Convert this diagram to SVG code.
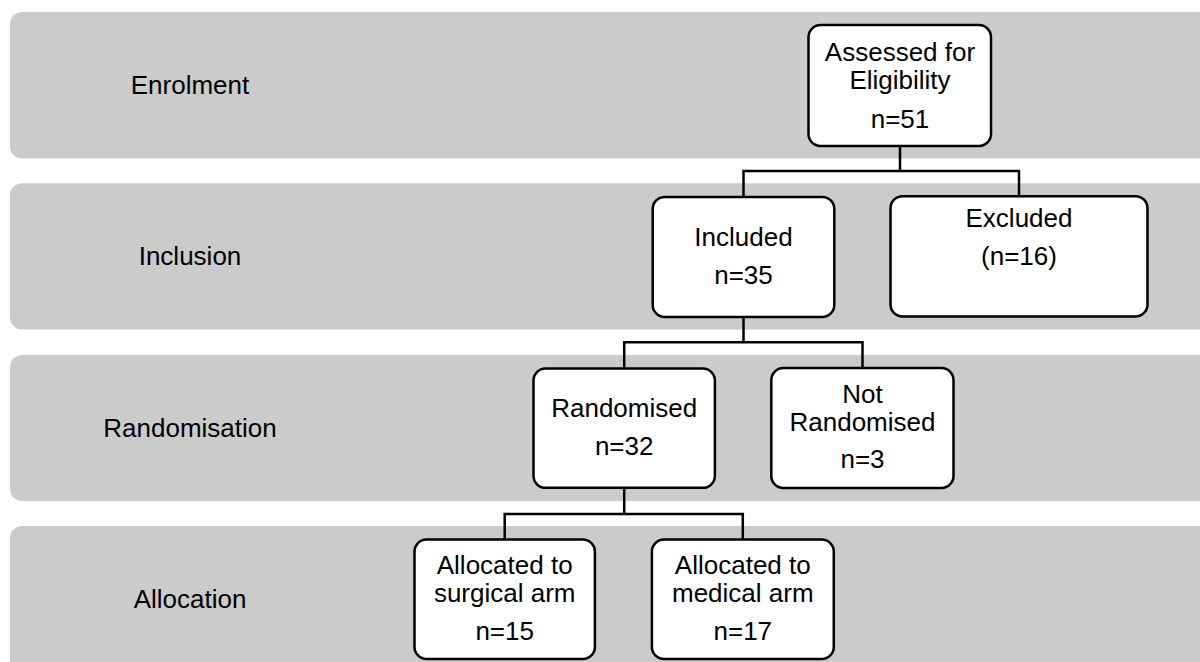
<svg xmlns="http://www.w3.org/2000/svg" width="1200" height="662" viewBox="0 0 1200 662">
  <style>
    .band { fill: #cbcbcb; }
    .box { fill: #ffffff; stroke: #000000; stroke-width: 2.5; }
    .conn { fill: none; stroke: #000000; stroke-width: 2.5; stroke-linejoin: miter; stroke-linecap: butt; }
    text { font-family: "Liberation Sans", Arial, sans-serif; font-size: 26px; fill: #000000; text-anchor: middle; }
  </style>

  <!-- Stage bands -->
  <g id="bands">
    <g id="band-enrolment">
      <rect class="band" x="10" y="12" width="1210" height="146.5" rx="12" ry="12"/>
      <text x="190" y="94">Enrolment</text>
    </g>
    <g id="band-inclusion">
      <rect class="band" x="10" y="183.3" width="1210" height="146.2" rx="12" ry="12"/>
      <text x="190" y="265">Inclusion</text>
    </g>
    <g id="band-randomisation">
      <rect class="band" x="10" y="355" width="1210" height="146" rx="12" ry="12"/>
      <text x="190" y="436.7">Randomisation</text>
    </g>
    <g id="band-allocation">
      <rect class="band" x="10" y="526" width="1210" height="160" rx="12" ry="12"/>
      <text x="190" y="608.3">Allocation</text>
    </g>
  </g>

  <!-- Connectors -->
  <g id="connectors">
    <path class="conn" d="M900,146 V171 M743.5,197 V171 H1019 V196"/>
    <path class="conn" d="M743.5,317 V342.3 M624.2,368 V342.3 H862.5 V368"/>
    <path class="conn" d="M624.2,488 V514 M504.7,539 V514 H742.8 V539"/>
  </g>

  <!-- Nodes -->
  <g id="node-assessed">
    <rect class="box" x="808.5" y="25" width="182.5" height="121" rx="12" ry="12"/>
    <text x="900" y="61">Assessed for</text>
    <text x="900" y="89.3">Eligibility</text>
    <text x="900" y="127.7">n=51</text>
  </g>
  <g id="node-included">
    <rect class="box" x="652.7" y="196.9" width="181.6" height="120" rx="12" ry="12"/>
    <text x="743.5" y="246">Included</text>
    <text x="743.5" y="284">n=35</text>
  </g>
  <g id="node-excluded">
    <rect class="box" x="890.5" y="196.2" width="257" height="120.3" rx="12" ry="12"/>
    <text x="1019" y="226.7">Excluded</text>
    <text x="1019" y="265">(n=16)</text>
  </g>
  <g id="node-randomised">
    <rect class="box" x="533.5" y="368.5" width="181.4" height="119.3" rx="12" ry="12"/>
    <text x="624.2" y="416.7">Randomised</text>
    <text x="624.2" y="455">n=32</text>
  </g>
  <g id="node-not-randomised">
    <rect class="box" x="771.3" y="368" width="182.2" height="120" rx="12" ry="12"/>
    <text x="862.5" y="403.3">Not</text>
    <text x="862.5" y="431">Randomised</text>
    <text x="862.5" y="468.3">n=3</text>
  </g>
  <g id="node-surgical">
    <rect class="box" x="414.5" y="539.5" width="180.4" height="119.5" rx="12" ry="12"/>
    <text x="504.7" y="574">Allocated to</text>
    <text x="504.7" y="601.7">surgical arm</text>
    <text x="504.7" y="640">n=15</text>
  </g>
  <g id="node-medical">
    <rect class="box" x="651.9" y="539.5" width="181.9" height="119.5" rx="12" ry="12"/>
    <text x="742.8" y="574">Allocated to</text>
    <text x="742.8" y="601.7">medical arm</text>
    <text x="742.8" y="640">n=17</text>
  </g>
</svg>
